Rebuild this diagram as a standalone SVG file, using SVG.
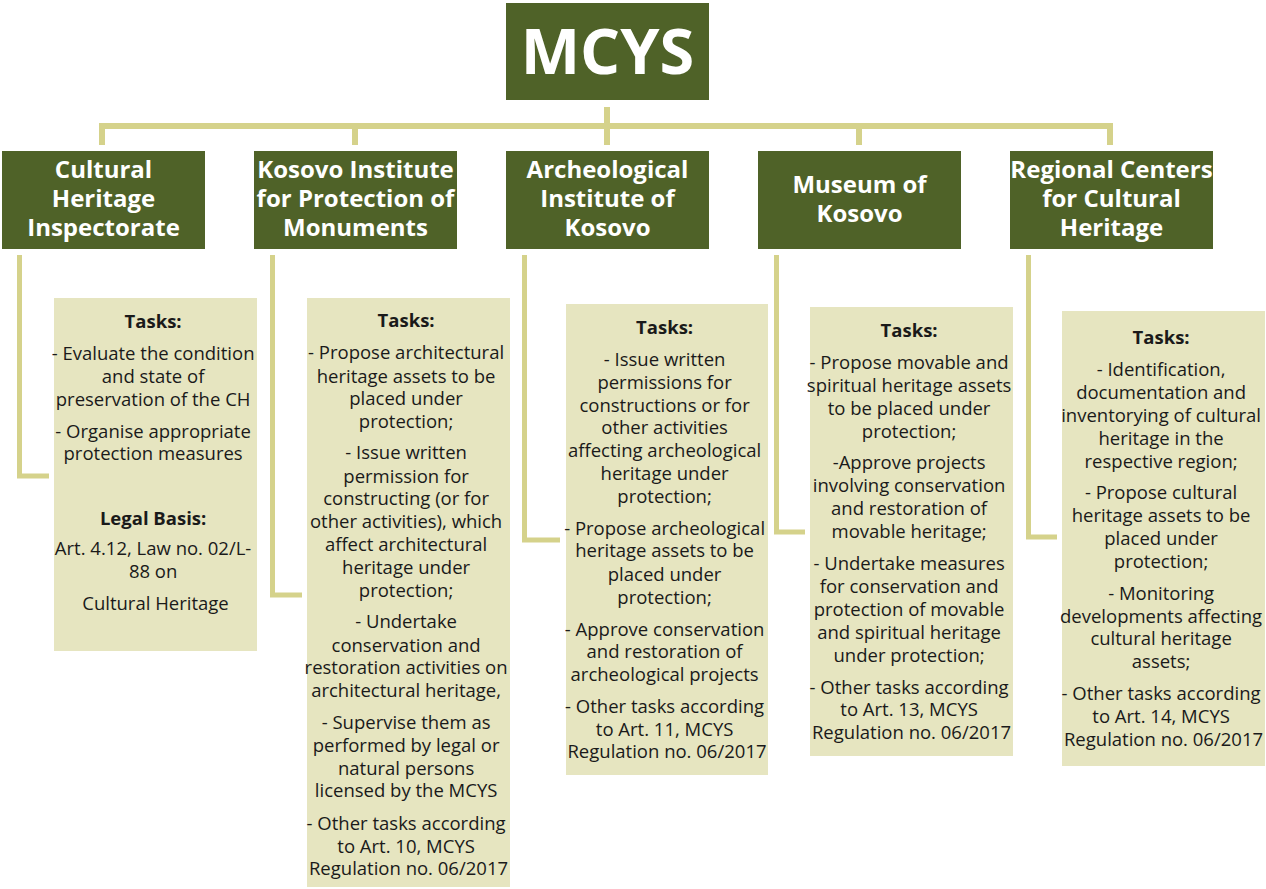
<svg xmlns="http://www.w3.org/2000/svg" width="1266" height="889" viewBox="0 0 1266 889">
<style>
.dk{fill:#4F6228}
.lt{fill:#E6E5C0}
.hd{font-family:"Open Sans","DejaVu Sans",sans-serif;font-weight:700;font-size:24px;fill:#FFFFFF;text-anchor:middle}
.top{font-family:"Open Sans","DejaVu Sans",sans-serif;font-weight:700;font-size:63px;fill:#FFFFFF;text-anchor:middle}
.t{font-family:"Open Sans","DejaVu Sans",sans-serif;font-size:18.5px;fill:#1A1A1A;text-anchor:middle}
.b{font-weight:700}
.tree{fill:none;stroke:#D5D28B;stroke-width:6}
.el{fill:none;stroke:#D5D28B;stroke-width:5}
</style>
<g id="connectors">
<path class="tree" d="M607,107 V145"/>
<path class="tree" d="M102,145 V126 H1110 V145"/>
<path class="tree" d="M355,126 V145 M859,126 V145"/>
<path class="el" d="M19.5,255 V476 H49"/>
<path class="el" d="M272.5,255 V595 H302"/>
<path class="el" d="M524.5,255 V540 H560"/>
<path class="el" d="M776.5,255 V532 H805"/>
<path class="el" d="M1028.5,255 V537 H1057"/>
</g>
<g id="mcys">
<rect class="dk" x="506" y="3" width="203" height="97"/>
<text class="top" x="607.5" y="74">MCYS</text>
</g>
<g id="inspectorate">
<rect class="dk" x="2" y="151" width="203" height="98"/>
<text class="hd" x="103.5" y="178">Cultural</text>
<text class="hd" x="103.5" y="207">Heritage</text>
<text class="hd" x="103.5" y="236">Inspectorate</text>
</g>
<g id="kipm">
<rect class="dk" x="254" y="151" width="203" height="98"/>
<text class="hd" x="355.5" y="178">Kosovo Institute</text>
<text class="hd" x="355.5" y="207">for Protection of</text>
<text class="hd" x="355.5" y="236">Monuments</text>
</g>
<g id="aik">
<rect class="dk" x="506" y="151" width="203" height="98"/>
<text class="hd" x="607.5" y="178">Archeological</text>
<text class="hd" x="607.5" y="207">Institute of</text>
<text class="hd" x="607.5" y="236">Kosovo</text>
</g>
<g id="museum">
<rect class="dk" x="758" y="151" width="203" height="98"/>
<text class="hd" x="859.5" y="193">Museum of</text>
<text class="hd" x="859.5" y="222">Kosovo</text>
</g>
<g id="regional">
<rect class="dk" x="1010" y="151" width="203" height="98"/>
<text class="hd" x="1111.5" y="178">Regional Centers</text>
<text class="hd" x="1111.5" y="207">for Cultural</text>
<text class="hd" x="1111.5" y="236">Heritage</text>
</g>
<g id="tasks-inspectorate">
<rect class="lt" x="54" y="298" width="203" height="353"/>
<text class="t" x="155.5">
<tspan class="b" x="155.5" y="328">Tasks:</tspan>
<tspan x="155.5" y="360">- Evaluate the condition</tspan>
<tspan x="155.5" y="383">and state of</tspan>
<tspan x="155.5" y="406">preservation of the CH</tspan>
<tspan x="155.5" y="438">- Organise appropriate</tspan>
<tspan x="155.5" y="460">protection measures</tspan>
<tspan class="b" x="155.5" y="525">Legal Basis:</tspan>
<tspan x="155.5" y="555">Art. 4.12, Law no. 02/L-</tspan>
<tspan x="155.5" y="578">88 on</tspan>
<tspan x="155.5" y="610">Cultural Heritage</tspan>
</text>
</g>
<g id="tasks-kipm">
<rect class="lt" x="307" y="298" width="203" height="589"/>
<text class="t" x="408.5">
<tspan class="b" x="408.5" y="327">Tasks:</tspan>
<tspan x="408.5" y="359">- Propose architectural</tspan>
<tspan x="408.5" y="383">heritage assets to be</tspan>
<tspan x="408.5" y="405">placed under</tspan>
<tspan x="408.5" y="428">protection;</tspan>
<tspan x="408.5" y="459">- Issue written</tspan>
<tspan x="408.5" y="483">permission for</tspan>
<tspan x="408.5" y="505">constructing (or for</tspan>
<tspan x="408.5" y="528">other activities), which</tspan>
<tspan x="408.5" y="551">affect architectural</tspan>
<tspan x="408.5" y="574">heritage under</tspan>
<tspan x="408.5" y="597">protection;</tspan>
<tspan x="408.5" y="628">- Undertake</tspan>
<tspan x="408.5" y="652">conservation and</tspan>
<tspan x="408.5" y="674">restoration activities on</tspan>
<tspan x="408.5" y="697">architectural heritage,</tspan>
<tspan x="408.5" y="729">- Supervise them as</tspan>
<tspan x="408.5" y="752">performed by legal or</tspan>
<tspan x="408.5" y="775">natural persons</tspan>
<tspan x="408.5" y="797">licensed by the MCYS</tspan>
<tspan x="408.5" y="830">- Other tasks according</tspan>
<tspan x="408.5" y="853">to Art. 10, MCYS</tspan>
<tspan x="408.5" y="875">Regulation no. 06/2017</tspan>
</text>
</g>
<g id="tasks-aik">
<rect class="lt" x="566" y="304" width="202" height="471"/>
<text class="t" x="667">
<tspan class="b" x="667" y="334">Tasks:</tspan>
<tspan x="667" y="366">- Issue written</tspan>
<tspan x="667" y="389">permissions for</tspan>
<tspan x="667" y="412">constructions or for</tspan>
<tspan x="667" y="434">other activities</tspan>
<tspan x="667" y="457">affecting archeological</tspan>
<tspan x="667" y="480">heritage under</tspan>
<tspan x="667" y="503">protection;</tspan>
<tspan x="667" y="535">- Propose archeological</tspan>
<tspan x="667" y="557">heritage assets to be</tspan>
<tspan x="667" y="581">placed under</tspan>
<tspan x="667" y="604">protection;</tspan>
<tspan x="667" y="636">- Approve conservation</tspan>
<tspan x="667" y="658">and restoration of</tspan>
<tspan x="667" y="681">archeological projects</tspan>
<tspan x="667" y="713">- Other tasks according</tspan>
<tspan x="667" y="736">to Art. 11, MCYS</tspan>
<tspan x="667" y="758">Regulation no. 06/2017</tspan>
</text>
</g>
<g id="tasks-museum">
<rect class="lt" x="810" y="307" width="203" height="449"/>
<text class="t" x="911.5">
<tspan class="b" x="911.5" y="337">Tasks:</tspan>
<tspan x="911.5" y="369">- Propose movable and</tspan>
<tspan x="911.5" y="392">spiritual heritage assets</tspan>
<tspan x="911.5" y="415">to be placed under</tspan>
<tspan x="911.5" y="438">protection;</tspan>
<tspan x="911.5" y="469">-Approve projects</tspan>
<tspan x="911.5" y="492">involving conservation</tspan>
<tspan x="911.5" y="515">and restoration of</tspan>
<tspan x="911.5" y="538">movable heritage;</tspan>
<tspan x="911.5" y="570">- Undertake measures</tspan>
<tspan x="911.5" y="593">for conservation and</tspan>
<tspan x="911.5" y="616">protection of movable</tspan>
<tspan x="911.5" y="639">and spiritual heritage</tspan>
<tspan x="911.5" y="662">under protection;</tspan>
<tspan x="911.5" y="694">- Other tasks according</tspan>
<tspan x="911.5" y="716">to Art. 13, MCYS</tspan>
<tspan x="911.5" y="739">Regulation no. 06/2017</tspan>
</text>
</g>
<g id="tasks-regional">
<rect class="lt" x="1062" y="311" width="203" height="455"/>
<text class="t" x="1163.5">
<tspan class="b" x="1163.5" y="344">Tasks:</tspan>
<tspan x="1163.5" y="376">- Identification,</tspan>
<tspan x="1163.5" y="399">documentation and</tspan>
<tspan x="1163.5" y="422">inventorying of cultural</tspan>
<tspan x="1163.5" y="445">heritage in the</tspan>
<tspan x="1163.5" y="468">respective region;</tspan>
<tspan x="1163.5" y="499">- Propose cultural</tspan>
<tspan x="1163.5" y="522">heritage assets to be</tspan>
<tspan x="1163.5" y="545">placed under</tspan>
<tspan x="1163.5" y="568">protection;</tspan>
<tspan x="1163.5" y="600">- Monitoring</tspan>
<tspan x="1163.5" y="623">developments affecting</tspan>
<tspan x="1163.5" y="645">cultural heritage</tspan>
<tspan x="1163.5" y="668">assets;</tspan>
<tspan x="1163.5" y="700">- Other tasks according</tspan>
<tspan x="1163.5" y="723">to Art. 14, MCYS</tspan>
<tspan x="1163.5" y="746">Regulation no. 06/2017</tspan>
</text>
</g>
</svg>
